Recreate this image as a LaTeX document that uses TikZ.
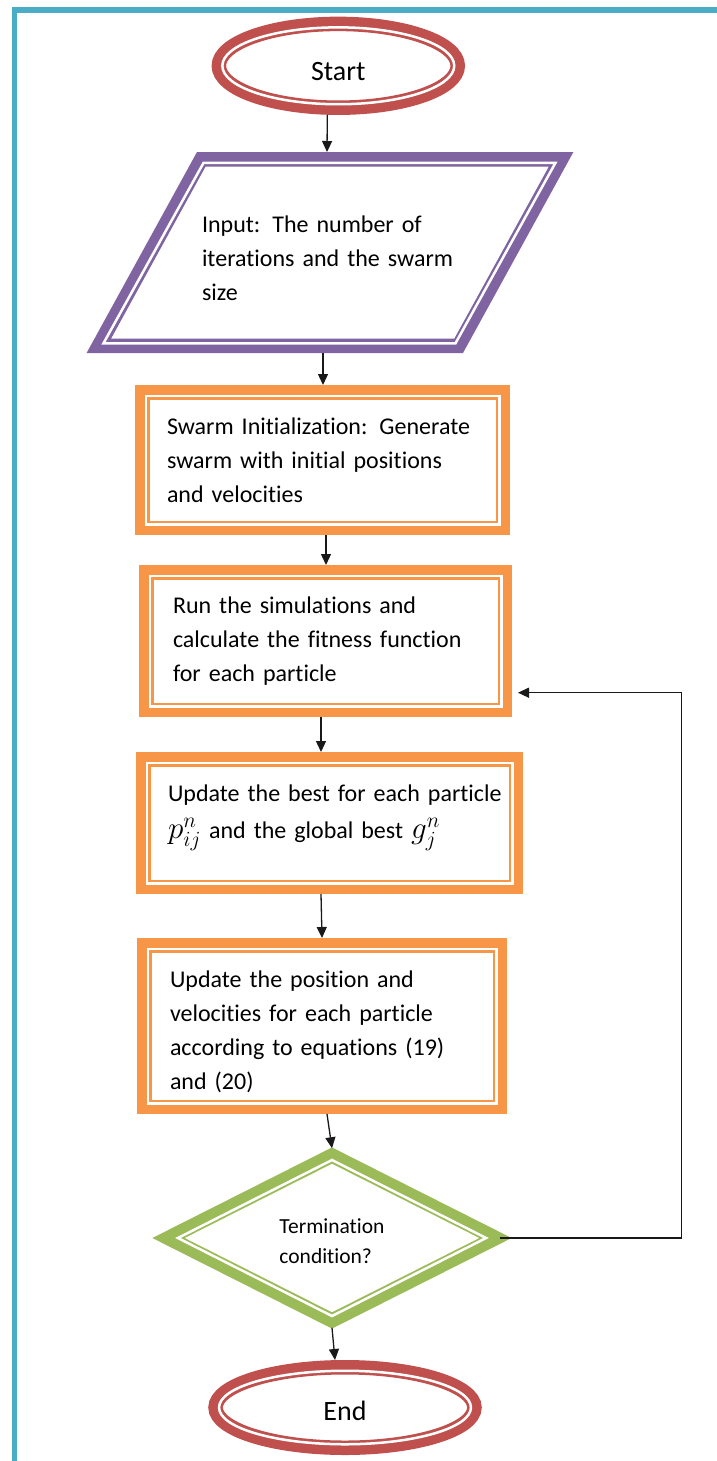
\documentclass[tikz,border=0pt]{standalone}
\usepackage{graphicx}
\usepackage{fontspec}
\setmainfont{Carlito}[Ligatures={NoCommon}]
\usetikzlibrary{arrows.meta,shapes.geometric,calc}
\definecolor{cRed}{HTML}{C0504D}
\definecolor{cPurple}{HTML}{8064A2}
\definecolor{cOrange}{HTML}{F79646}
\definecolor{cGreen}{HTML}{9BBB59}
\definecolor{cBlue}{HTML}{4BACC6}
\begin{document}
\begin{tikzpicture}[x=1pt,y=-1pt,
  band/.style={line width=14.5pt, fill=white, line join=miter},
  gap/.style={white, line width=2.5pt, line join=miter},
  termbox/.style={ellipse, band, draw=cRed, inner sep=0pt, outer sep=7.25pt, font=\fontsize{28}{34}\selectfont},
  procbox/.style={rectangle, band, draw=cOrange, inner sep=0pt, outer sep=7.25pt, align=left, font=\fontsize{24}{34}\selectfont},
  decbox/.style={diamond, band, draw=cGreen, inner sep=0pt, outer sep=0pt},
  dectext/.style={inner sep=0pt, align=left, font=\fontsize{21.5}{30}\selectfont},
  intext/.style={inner sep=0pt, outer sep=0pt, align=left, font=\fontsize{24}{34}\selectfont},
  arr/.style={draw=black!90, line width=1.3pt, -{Triangle[length=11pt,width=10pt]}},
  frame/.style={draw=cBlue, line width=5.5pt, line join=miter}
]
\useasboundingbox (0,0) rectangle (716,1461);
% outer frame
\draw[frame] (14.5,1475) -- (14.5,10) -- (730,10);

% Start
\node[termbox, minimum width=238.9pt, minimum height=83.8pt, text height=30pt, text depth=0pt] (start) at (338.3,65.8) {Start};
\draw[gap] (start.center) ellipse [x radius=115.95pt, y radius=38.45pt];

% Input parallelogram
\draw[band, draw=cPurple] (98.85,345.75) -- (201.3,159.25) -- (561.15,159.25) -- (458.7,345.75) -- cycle;
\draw[gap] (103.5,343.25) -- (203.6,162.75) -- (555.5,162.75) -- (455.5,343.25) -- cycle;
\node[intext, text width=260pt, minimum height=201pt, text height=28pt] (inp) at (332,252.5)
  {Input: The number of\\iterations and the swarm\\size};

% Process boxes
\node[procbox, minimum width=360.5pt, minimum height=135.5pt, text width=311pt] (b1) at (322.5,460)
  {Swarm Initialization: Generate\\swarm with initial positions\\and velocities};
\draw[gap] ($(b1.north west)+(10.75,10.75)$) rectangle ($(b1.south east)+(-10.75,-10.75)$);

\node[procbox, minimum width=358.5pt, minimum height=137.5pt, text width=305pt] (b2) at (325.5,641)
  {Run the simulations and\\calculate the fitness function\\for each particle};
\draw[gap] ($(b2.north west)+(10.75,10.75)$) rectangle ($(b2.south east)+(-10.75,-10.75)$);

\node[procbox, minimum width=372.5pt, minimum height=127.5pt, text width=323pt, text depth=60pt] (b3) at (329.5,823)
  {\mbox{Update the best for each particle}\\[3pt]\scalebox{1.25}{$p^{n}_{ij}$} and the global best \scalebox{1.25}{$g^{n}_{j}$}};
\draw[gap] ($(b3.north west)+(10.75,10.75)$) rectangle ($(b3.south east)+(-10.75,-10.75)$);

\node[procbox, minimum width=355.5pt, minimum height=161.5pt, text width=304pt, text height=28pt] (b4) at (322,1026)
  {Update the position and\\velocities for each particle\\according to equations (19)\\and (20)};
\draw[gap] ($(b4.north west)+(10.75,10.75)$) rectangle ($(b4.south east)+(-10.75,-10.75)$);

% Decision
\node[decbox, minimum width=327.1pt, minimum height=164.9pt,
      label={[dectext, yshift=-3pt]center:{Termination\\condition?}}] (dia) at (332,1238) {};
\draw[gap] (332,1160.0) -- (486.1,1238) -- (332,1316.0) -- (177.9,1238) -- cycle;

% End
\node[termbox, minimum width=258.9pt, minimum height=80.5pt, text height=26pt, text depth=0pt] (end) at (345,1407.5) {End};
\draw[gap] (end.center) ellipse [x radius=125.95pt, y radius=36.75pt];

% Connectors
\draw[arr] ([xshift=-11pt]start.south) -- ([xshift=-5pt]inp.north);
\draw[arr] ([xshift=-9pt]inp.south) -- ([xshift=0.5pt]b1.north);
\draw[arr] ([xshift=3.5pt]b1.south) -- ([xshift=0.5pt]b2.north);
\draw[arr] ([xshift=-4.5pt]b2.south) -- ([xshift=-8.5pt]b3.north);
\draw[arr] ([xshift=-8.5pt]b3.south) -- (b4.north);
\draw[arr] ([xshift=5pt]b4.south) -- ([yshift=7.3pt]dia.north);
\draw[arr] ([yshift=-7.3pt]dia.south) -- ([xshift=-10pt]end.north);
\draw[arr] ([xshift=4pt]dia.east) -- ++(182,0) |- ([xshift=6pt,yshift=-51.7pt]b2.east);
\end{tikzpicture}
\end{document}
